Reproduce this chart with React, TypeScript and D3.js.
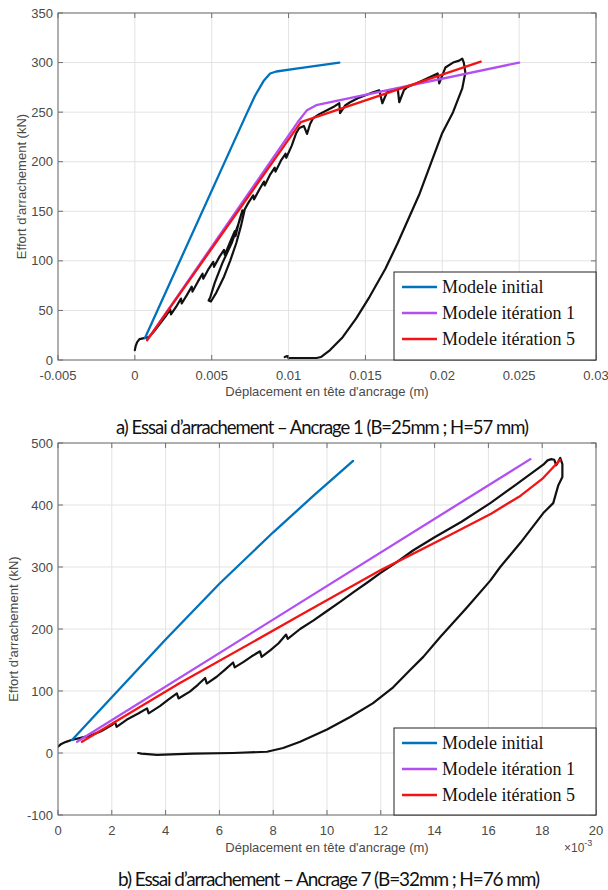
import * as d3 from 'd3'

type Pt = [number, number]

// ---- panel a) Ancrage 1 ----
const topXTicks = [-0.005, 0, 0.005, 0.01, 0.015, 0.02, 0.025, 0.03]
const topYTicks = [0, 50, 100, 150, 200, 250, 300, 350]

const topInitial: Pt[] = [
  [0.00065, 22], [0.0072, 246], [0.0078, 266], [0.0084, 282], [0.0088, 289],
  [0.0092, 291], [0.0105, 294], [0.0133, 300],
]
const topIter1: Pt[] = [[0.0008, 20], [0.0106, 240], [0.0112, 252], [0.0118, 257], [0.025, 300]]
const topIter5: Pt[] = [[0.0008, 20], [0.0108, 240], [0.0225, 301]]
const topTest: Pt[] = [
  [0, 10], [0.00005, 14], [0.00015, 18], [0.0003, 21], [0.0006, 22], [0.0009, 23], [0.0012, 28],
  [0.0016, 36], [0.002, 44], [0.0023, 51], [0.00235, 46], [0.0027, 54], [0.003, 62], [0.00305, 57],
  [0.0034, 66], [0.0037, 74], [0.00375, 69], [0.0041, 79], [0.0044, 87], [0.00445, 82], [0.0048, 92],
  [0.0051, 99], [0.00515, 94], [0.0055, 104], [0.0058, 111], [0.00585, 106], [0.0062, 119],
  [0.0065, 130], [0.00655, 125], [0.0068, 141], [0.007, 151],
  [0.0068, 140], [0.0063, 118], [0.0057, 98], [0.0052, 78], [0.0049, 63], [0.0048, 60],
  [0.00495, 59], [0.0053, 68], [0.0058, 84], [0.0062, 100], [0.0066, 118], [0.0069, 135], [0.00715, 152],
  [0.0074, 159], [0.0077, 166], [0.00775, 162], [0.0081, 172], [0.0084, 180], [0.00845, 176],
  [0.0088, 187], [0.0091, 194], [0.00915, 190], [0.0095, 201], [0.0098, 208], [0.00985, 204],
  [0.0102, 216], [0.0105, 229], [0.0107, 234], [0.011, 236], [0.0112, 228], [0.0114, 238],
  [0.0116, 244], [0.012, 248], [0.0125, 252], [0.013, 256], [0.0133, 259], [0.01335, 249],
  [0.0137, 257], [0.014, 260], [0.0145, 264], [0.015, 267], [0.0155, 270], [0.0159, 272],
  [0.0161, 259], [0.0164, 270], [0.0168, 272], [0.0171, 274], [0.0172, 260], [0.0175, 272],
  [0.0177, 275], [0.0183, 279], [0.019, 284], [0.0197, 289], [0.0198, 279], [0.0202, 295],
  [0.0207, 300], [0.0211, 302], [0.0213, 304], [0.0214, 300], [0.0215, 290], [0.0213, 274],
  [0.0207, 250], [0.02, 229], [0.0193, 200], [0.01853, 168], [0.0171, 118], [0.0163, 92],
  [0.01528, 64], [0.0144, 42], [0.01352, 23], [0.0127, 10], [0.0121, 3], [0.01183, 2], [0.011, 2],
  [0.01, 2], [0.0099, 4], [0.00975, 3],
]

// ---- panel b) Ancrage 7 ----
const botXTicks = [0, 0.002, 0.004, 0.006, 0.008, 0.01, 0.012, 0.014, 0.016, 0.018, 0.02]
const botYTicks = [-100, 0, 100, 200, 300, 400, 500]

const botInitial: Pt[] = [
  [0.00052, 21], [0.002, 90], [0.004, 183], [0.006, 273], [0.008, 356], [0.0095, 415], [0.01097, 471],
]
const botIter1: Pt[] = [[0.00071, 18], [0.01756, 474]]
const botIter5: Pt[] = [
  [0.00089, 18], [0.0045, 112], [0.009, 222], [0.012, 295], [0.0145, 350], [0.0161, 386],
  [0.0172, 415], [0.018, 442], [0.01867, 473],
]
const botTest: Pt[] = [
  [0, 10], [0.0001, 14], [0.0003, 18], [0.0005, 21], [0.0008, 24], [0.0012, 28], [0.0016, 35],
  [0.002, 45], [0.00212, 50], [0.00218, 42], [0.0026, 55], [0.003, 64], [0.00331, 72], [0.00337, 64],
  [0.0038, 76], [0.0041, 86], [0.00442, 96], [0.00448, 88], [0.0049, 99], [0.0052, 110],
  [0.00547, 121], [0.00553, 112], [0.0059, 123], [0.0062, 134], [0.00651, 146], [0.00657, 138],
  [0.0069, 147], [0.0072, 156], [0.00751, 164], [0.00757, 155], [0.0079, 166], [0.0082, 177],
  [0.00848, 191], [0.00854, 184], [0.009, 200], [0.0095, 214], [0.01, 229], [0.0105, 244],
  [0.011, 260], [0.0115, 275], [0.01198, 290], [0.0125, 305], [0.01321, 327], [0.014, 348],
  [0.015, 373], [0.01607, 403], [0.017, 432], [0.01804, 465], [0.0182, 472], [0.01834, 474],
  [0.01845, 473], [0.01852, 464], [0.0186, 470], [0.01867, 476], [0.01875, 466], [0.01875, 445],
  [0.0186, 432], [0.01841, 403], [0.01804, 387], [0.01719, 339], [0.01644, 300], [0.01607, 278],
  [0.01521, 235], [0.01421, 187], [0.01358, 155], [0.01309, 134], [0.01246, 106], [0.0117, 80],
  [0.01086, 58], [0.01, 38], [0.009, 18], [0.00837, 8], [0.00777, 2], [0.0065, 0], [0.005, -1],
  [0.00368, -3], [0.0031, -1], [0.00298, 0],
]

const legendLabels = ['Modele initial', 'Modele itération 1', 'Modele itération 5']
const modelColors = ['#0072bd', '#b24ff2', '#f21414']

const W = 608
const H = 890
const sans = '"Liberation Sans", Arial, sans-serif'

type PanelProps = {
  id: string
  top: number
  bottom: number
  xDomain: [number, number]
  yDomain: [number, number]
  xTicks: number[]
  yTicks: number[]
  xFmt: (d: number) => string
  models: Pt[][]
  test: Pt[]
  legendTop: number
  ylabelX: number
  xlabelY: number
  tickLabelY: number
  caption: string
  captionX: number
  captionY: number
  captionLen: number
  captionSize: number
  exponent?: boolean
}

function Panel(p: PanelProps) {
  const left = 58
  const right = 596
  const x = d3.scaleLinear().domain(p.xDomain).range([left, right])
  const y = d3.scaleLinear().domain(p.yDomain).range([p.bottom, p.top])
  const line = d3.line<Pt>().x((d) => x(d[0])).y((d) => y(d[1]))
  const tk = 5
  const legRows = [0, 1, 2].map((i) => p.legendTop + 15 + i * 26)

  return (
    <g>
      <clipPath id={p.id}>
        <rect x={left} y={p.top} width={right - left} height={p.bottom - p.top} />
      </clipPath>
      <rect x={left} y={p.top} width={right - left} height={p.bottom - p.top} fill="#fff" />
      {p.xTicks.map((t) => (
        <line key={'gx' + t} x1={x(t)} x2={x(t)} y1={p.top} y2={p.bottom} stroke="#e3e3e3" />
      ))}
      {p.yTicks.map((t) => (
        <line key={'gy' + t} x1={left} x2={right} y1={y(t)} y2={y(t)} stroke="#e3e3e3" />
      ))}
      <g clipPath={`url(#${p.id})`} fill="none" strokeLinejoin="round" strokeLinecap="round">
        <path d={line(p.test) ?? ''} stroke="#111" strokeWidth={2.2} />
        {p.models.map((s, i) => (
          <path key={i} d={line(s) ?? ''} stroke={modelColors[i]} strokeWidth={2.3} />
        ))}
      </g>
      <rect x={left} y={p.top} width={right - left} height={p.bottom - p.top} fill="none" stroke="#6e6e6e" />
      {p.xTicks.map((t) => (
        <g key={'tx' + t} stroke="#6e6e6e">
          <line x1={x(t)} x2={x(t)} y1={p.bottom} y2={p.bottom - tk} />
          <line x1={x(t)} x2={x(t)} y1={p.top} y2={p.top + tk} />
        </g>
      ))}
      {p.yTicks.map((t) => (
        <g key={'ty' + t} stroke="#6e6e6e">
          <line x1={left} x2={left + tk} y1={y(t)} y2={y(t)} />
          <line x1={right} x2={right - tk} y1={y(t)} y2={y(t)} />
        </g>
      ))}
      <g fontFamily={sans} fontSize={13} fill="#4a4a4a">
        {p.xTicks.map((t) => (
          <text key={'lx' + t} x={x(t)} y={p.tickLabelY} textAnchor="middle">
            {p.xFmt(t)}
          </text>
        ))}
        {p.yTicks.map((t) => (
          <text key={'ly' + t} x={left - 5} y={y(t)} textAnchor="end" dominantBaseline="central">
            {String(t)}
          </text>
        ))}
        <text x={(left + right) / 2} y={p.xlabelY} textAnchor="middle">
          Déplacement en tête d'ancrage (m)
        </text>
        <text
          transform={`translate(${p.ylabelX},${(p.top + p.bottom) / 2}) rotate(-90)`}
          textAnchor="middle"
          dominantBaseline="central"
        >
          Effort d'arrachement (kN)
        </text>
        {p.exponent && (
          <text x={564} y={p.xlabelY} fontSize={12}>
            ×10
            <tspan dy={-6} fontSize={9}>-3</tspan>
          </text>
        )}
      </g>
      <rect x={394} y={p.legendTop} width={right - 394} height={p.bottom - p.legendTop} fill="#fff" stroke="#222" />
      {legendLabels.map((lab, i) => (
        <g key={lab}>
          <line x1={402} x2={437} y1={legRows[i]} y2={legRows[i]} stroke={modelColors[i]} strokeWidth={2.6} />
          <text
            x={442}
            y={legRows[i]}
            dominantBaseline="central"
            fontFamily='"Liberation Serif", "DejaVu Serif", serif'
            fontSize={18}
            fill="#111"
          >
            {lab}
          </text>
        </g>
      ))}
      <text
        x={p.captionX}
        y={p.captionY}
        fontFamily="Lato, 'Open Sans', sans-serif"
        fontSize={p.captionSize}
        fill="#111"
        textLength={p.captionLen}
        lengthAdjust="spacing"
      >
        {p.caption}
      </text>
    </g>
  )
}

export default function App() {
  return (
    <svg width={W} height={H} style={{ position: 'absolute', left: 0, top: 0, background: '#fff' }}>
      <rect width={W} height={H} fill="#fff" />
      <Panel
        id="clipA"
        top={13}
        bottom={360}
        xDomain={[-0.005, 0.03]}
        yDomain={[0, 350]}
        xTicks={topXTicks}
        yTicks={topYTicks}
        xFmt={(d) => String(d)}
        models={[topInitial, topIter1, topIter5]}
        test={topTest}
        legendTop={272}
        ylabelX={21}
        xlabelY={396}
        tickLabelY={380}
        caption="a) Essai d’arrachement – Ancrage 1 (B=25mm ; H=57 mm)"
        captionX={116}
        captionY={434}
        captionLen={413}
        captionSize={18.5}
      />
      <Panel
        id="clipB"
        top={443}
        bottom={815}
        xDomain={[0, 0.02]}
        yDomain={[-100, 500]}
        xTicks={botXTicks}
        yTicks={botYTicks}
        xFmt={(d) => (d * 1000).toFixed(0)}
        models={[botInitial, botIter1, botIter5]}
        test={botTest}
        legendTop={728}
        ylabelX={13}
        xlabelY={852}
        tickLabelY={835}
        caption="b) Essai d’arrachement – Ancrage 7 (B=32mm ; H=76 mm)"
        captionX={118}
        captionY={886}
        captionLen={422}
        captionSize={19}
        exponent
      />
    </svg>
  )
}
